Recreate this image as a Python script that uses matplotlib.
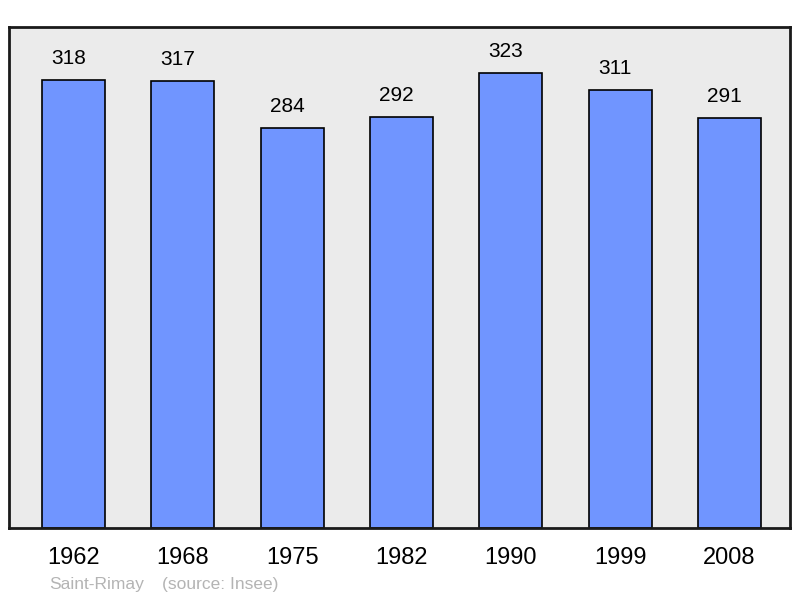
import matplotlib
matplotlib.use("Agg")
import matplotlib.pyplot as plt

YEARS = ["1962", "1968", "1975", "1982", "1990", "1999", "2008"]
POPULATION = [318, 317, 284, 292, 323, 311, 291]
PLACE = "Saint-Rimay"
SOURCE = "(source: Insee)"

plt.rcParams["font.family"] = ["Liberation Sans", "DejaVu Sans"]

fig = plt.figure(figsize=(8.0, 5.98), dpi=100, facecolor="white")
ax = fig.add_axes([9 / 800, 70 / 598, 781 / 800, 501 / 598])
ax.set_facecolor("#ebebeb")

x = range(len(YEARS))
bars = ax.bar(x, POPULATION, width=0.576, color="#7095ff",
              edgecolor="black", linewidth=1.2, zorder=2)
for bar, val in zip(bars, POPULATION):
    ax.annotate(str(val), (bar.get_x() + bar.get_width() / 2, bar.get_height()),
                xytext=(-3.5, 15.5), textcoords="offset points",
                ha="center", va="center", fontsize=15, color="black")

ax.set_xlim(-0.59, 6.553)
ax.set_ylim(0, 355.6)
ax.set_yticks([])
ax.set_xticks(list(x))
ax.set_xticklabels(YEARS, fontsize=17)
ax.tick_params(axis="x", length=0, pad=14)
for sp in ax.spines.values():
    sp.set_linewidth(2)
    sp.set_edgecolor("#1a1a1a")

fig.text(49 / 800, 1 - 584 / 598, PLACE, color="#b4b4b4", fontsize=12.5,
         va="center", ha="left")
fig.text(162 / 800, 1 - 584 / 598, SOURCE, color="#b4b4b4", fontsize=12.5,
         va="center", ha="left")

fig.savefig("out.png", dpi=100, facecolor="white")
